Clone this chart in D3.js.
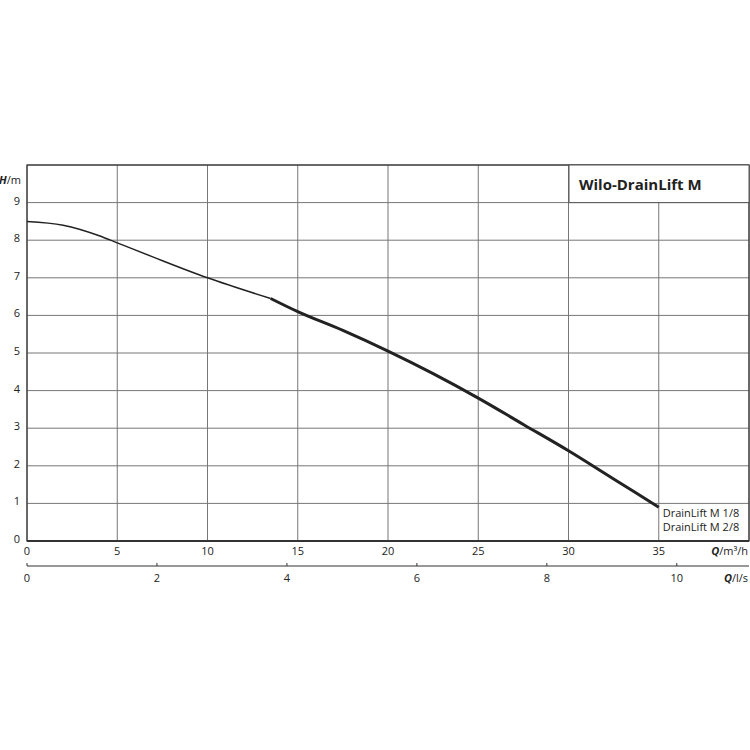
<!DOCTYPE html>
<html lang="en">
<head>
<meta charset="UTF-8">
<script src="https://d3js.org/d3.v7.min.js"></script>
<style>
  body { margin: 0; background: #fff; }
  text { font-family: "Open Sans", sans-serif; fill: #222; }
</style>
</head>
<body>
<svg id="canvas" width="750" height="750"></svg>
<script>
let qTicks = [0, 5, 10, 15, 20, 25, 30, 35]
let hTicks = [0, 1, 2, 3, 4, 5, 6, 7, 8, 9]
let lsTicks = [0, 2, 4, 6, 8, 10]
// curve points (Q m3/h, H m)
let curveQ = [0, 2, 4, 5, 7, 10, 13.5, 15, 17.5, 20, 22.5, 25, 27.5, 30, 32.5, 35]
let curveH = [8.5, 8.4, 8.12, 7.93, 7.55, 7.0, 6.45, 6.1, 5.6, 5.05, 4.45, 3.8, 3.1, 2.4, 1.65, 0.9]
let thickFrom = 13.5
let labels = ['DrainLift M 1/8', 'DrainLift M 2/8']

let svg = d3.select('#canvas')
let x = d3.scaleLinear().domain([0, 40]).range([27, 749])
let y = d3.scaleLinear().domain([0, 10]).range([541, 165])
let xl = d3.scaleLinear().domain([0, 40 / 3.6]).range([27, 749])

// grid
svg.selectAll('.vg').data(qTicks.concat([40])).enter().append('line')
  .attr('x1', d => x(d)).attr('x2', d => x(d))
  .attr('y1', y(0)).attr('y2', y(10))
  .attr('stroke', '#777').attr('stroke-width', 1)
svg.selectAll('.hg').data(hTicks.concat([10])).enter().append('line')
  .attr('x1', x(0)).attr('x2', x(40))
  .attr('y1', d => y(d)).attr('y2', d => y(d))
  .attr('stroke', '#777').attr('stroke-width', 1)
svg.append('rect').attr('x', x(0)).attr('y', y(10))
  .attr('width', x(40) - x(0)).attr('height', y(0) - y(10))
  .attr('fill', 'none').attr('stroke', '#333').attr('stroke-width', 1.2)
svg.append('line').attr('x1', x(0)).attr('x2', x(40)).attr('y1', y(0)).attr('y2', y(0))
  .attr('stroke', '#333').attr('stroke-width', 2)

// title box
svg.append('rect').attr('x', 569).attr('y', y(10))
  .attr('width', x(40) - 569).attr('height', y(9) - y(10))
  .attr('fill', '#fff').attr('stroke', '#555')
svg.append('text').attr('x', 579).attr('y', 190)
  .style('font-size', '15px').style('font-weight', 'bold').text('Wilo-DrainLift M')

// y tick labels
svg.selectAll('.yl').data(hTicks).enter().append('text')
  .attr('x', 20).attr('y', d => y(d) + 2).attr('text-anchor', 'end')
  .style('font-size', '11px').text(d => d)
let ht = svg.append('text').attr('x', 21).attr('y', 184).attr('text-anchor', 'end').style('font-size', '11px')
ht.append('tspan').style('font-weight', 'bold').style('font-style', 'italic').text('H')
ht.append('tspan').text('/m')

// x tick labels
svg.selectAll('.xl').data(qTicks).enter().append('text')
  .attr('x', d => x(d)).attr('y', 555).attr('text-anchor', 'middle')
  .style('font-size', '11px').text(d => d)
let qt = svg.append('text').attr('x', 748).attr('y', 555).attr('text-anchor', 'end').style('font-size', '11px')
qt.append('tspan').style('font-weight', 'bold').style('font-style', 'italic').text('Q')
qt.append('tspan').text('/m³/h')

// second axis l/s
svg.append('line').attr('x1', x(0)).attr('x2', x(40)).attr('y1', 566).attr('y2', 566)
  .attr('stroke', '#333').attr('stroke-width', 1.2)
svg.selectAll('.lt').data(lsTicks).enter().append('line')
  .attr('x1', d => xl(d)).attr('x2', d => xl(d)).attr('y1', 563).attr('y2', 566)
  .attr('stroke', '#333')
svg.selectAll('.ll').data(lsTicks).enter().append('text')
  .attr('x', d => xl(d)).attr('y', 582).attr('text-anchor', 'middle')
  .style('font-size', '11px').text(d => d)
let lt = svg.append('text').attr('x', 748).attr('y', 582).attr('text-anchor', 'end').style('font-size', '11px')
lt.append('tspan').style('font-weight', 'bold').style('font-style', 'italic').text('Q')
lt.append('tspan').text('/l/s')

// curve
let pts = curveQ.map((q, i) => [q, curveH[i]])
let line = d3.line().x(d => x(d[0])).y(d => y(d[1])).curve(d3.curveMonotoneX)
svg.append('path').attr('d', line(pts.filter(p => p[0] <= thickFrom)))
  .attr('fill', 'none').attr('stroke', '#222').attr('stroke-width', 1.5)
svg.append('path').attr('d', line(pts.filter(p => p[0] >= thickFrom)))
  .attr('fill', 'none').attr('stroke', '#222').attr('stroke-width', 3)

svg.selectAll('.lab').data(labels).enter().append('text')
  .attr('x', x(35) + 4).attr('y', (d, i) => 517 + i * 14)
  .style('font-size', '11px').text(d => d)
</script>
</body>
</html>
